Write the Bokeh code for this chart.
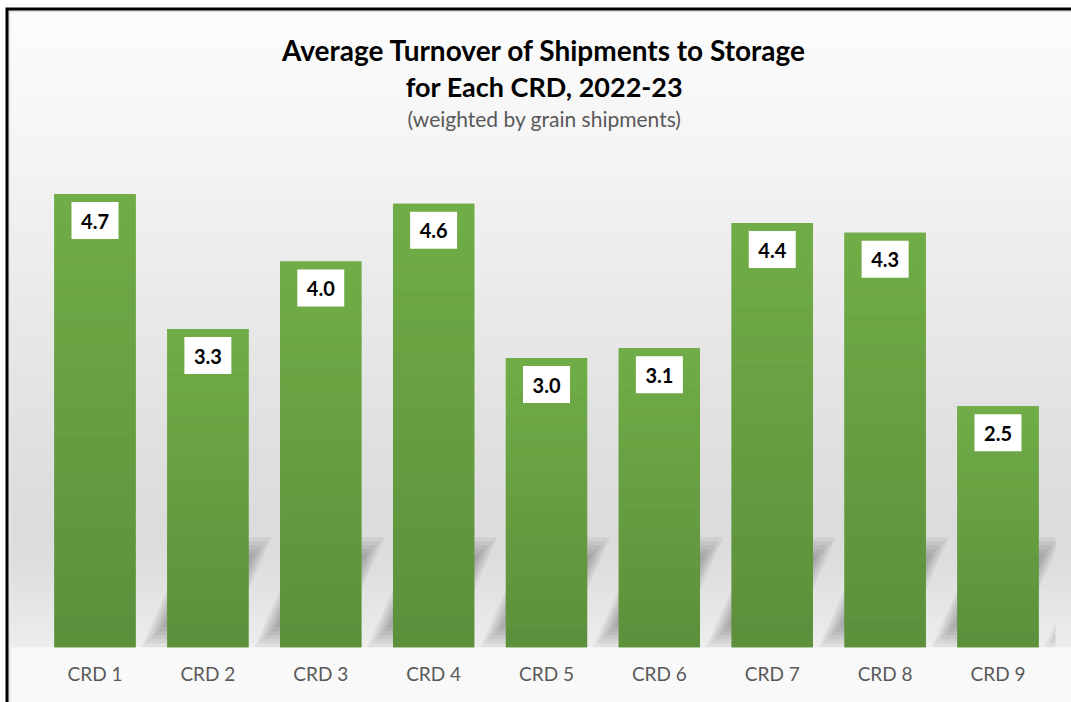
import numpy as np
from bokeh.plotting import figure
from bokeh.models import Range1d
from bokeh.core.properties import value
from bokeh.embed import file_html
from bokeh.resources import INLINE

# ---------------- data ----------------
categories = ["CRD 1", "CRD 2", "CRD 3", "CRD 4", "CRD 5", "CRD 6", "CRD 7", "CRD 8", "CRD 9"]
turnover = [4.7, 3.3, 4.0, 4.6, 3.0, 3.1, 4.4, 4.3, 2.5]
title_line1 = "Average Turnover of Shipments to Storage"
title_line2 = "for Each CRD, 2022-23"
subtitle = "(weighted by grain shipments)"

# ---------------- layout constants (pixels) ----------------
W, H = 1071, 702
PX_X = 112.875          # px per category step
PX_Y = 96.4             # px per unit of turnover
BASE_Y = 646.7          # canvas row of the bar base
FIRST_X = 94.5          # canvas column of first bar centre
BAR_W = 0.72
FONT = "Lato"

xpos = np.arange(1, len(categories) + 1, dtype=float)
x_start = 1 - FIRST_X / PX_X
x_end = x_start + W / PX_X


def ypix(py):
    return (BASE_Y - py) / PX_Y


def xpix(px):
    return x_start + px / PX_X


p = figure(width=W, height=H, x_range=Range1d(x_start, x_end), y_range=Range1d(ypix(H), ypix(0)),
           output_backend="svg", toolbar_location=None,
           min_border_left=0, min_border_right=0, min_border_top=0, min_border_bottom=0)
p.axis.visible = False
p.grid.visible = False
p.outline_line_color = None
p.background_fill_color = "white"
p.border_fill_color = "white"

# ---------------- chart area frame ----------------
p.quad(left=[xpix(5)], right=[xpix(W)], top=[ypix(7)], bottom=[ypix(H)], fill_color="black", line_color=None)
p.quad(left=[xpix(8)], right=[xpix(W)], top=[ypix(10)], bottom=[ypix(H)], fill_color="#e2e2e2", line_color=None)
p.quad(left=[xpix(10)], right=[xpix(W)], top=[ypix(12)], bottom=[ypix(H)], fill_color="#f9f9f9", line_color=None)

# ---------------- background gradient (plot wall) ----------------
stops_y = [12, 150, 300, 450, 530, 560, 600, BASE_Y]
stops_g = [253, 245, 234, 224, 220, 222, 229, 238]
N = 640
rows = BASE_Y - (np.arange(N) + 0.5) / N * (BASE_Y - 12)
gray = np.interp(rows, stops_y, stops_g).astype(np.uint8)
img = np.zeros((N, 1), dtype=np.uint32)
view = img.view(dtype=np.uint8).reshape((N, 1, 4))
view[:, 0, 0] = gray
view[:, 0, 1] = gray
view[:, 0, 2] = gray
view[:, 0, 3] = 255
p.image_rgba(image=[img], x=xpix(10), y=0, dw=xpix(W) - xpix(10), dh=ypix(12))

# ---------------- floor shadows ----------------
x_clip = xpix(1055)


def clip_right(pts, xmax):
    out = []
    for i in range(len(pts)):
        cur, prev = pts[i], pts[i - 1]
        cin, pin = cur[0] <= xmax, prev[0] <= xmax
        if cin != pin:
            t = (xmax - prev[0]) / (cur[0] - prev[0])
            out.append((xmax, prev[1] + t * (cur[1] - prev[1])))
        if cin:
            out.append(cur)
    return out


sh_gap = 6 / PX_X
sh_h_px = 110
skew = 47 / 106
for k in range(6):
    xs, ys = [], []
    inset = (k * 2.5) / PX_X
    top_px = sh_h_px - k * 4
    ht = top_px / PX_Y
    shift = top_px * skew / PX_X
    for xc in xpos:
        xl = xc + BAR_W / 2 + sh_gap + inset
        xr = xc + BAR_W / 2 + sh_gap + BAR_W - inset
        b = (k * 4) / PX_Y
        bs = (k * 4) * skew / PX_X
        pts = [(xl + bs, b), (xr + bs, b), (xr + shift, ht), (xl + shift, ht)]
        pts = clip_right(pts, x_clip)
        if len(pts) >= 3:
            xs.append([q[0] for q in pts])
            ys.append([q[1] for q in pts])
    p.patches(xs, ys, fill_color="black", fill_alpha=0.05, line_color=None)

# ---------------- bars ----------------
p.vbar(x=xpos, top=turnover, width=BAR_W, bottom=0, fill_color="#66a042", line_color=None)

top_rgb = np.array([112, 173, 71])
bot_rgb = np.array([92, 143, 59])
NS = 30
ql, qr, qb, qt, qc = [], [], [], [], []
for xc, v in zip(xpos, turnover):
    for s in range(NS):
        f = (s + 0.5) / NS
        c = (bot_rgb + (top_rgb - bot_rgb) * f).round().astype(int)
        ql.append(xc - BAR_W / 2)
        qr.append(xc + BAR_W / 2)
        qb.append(v * s / NS)
        qt.append(min(v, v * (s + 1) / NS + 0.01))
        qc.append("#%02x%02x%02x" % tuple(c))
p.quad(left=ql, right=qr, bottom=qb, top=qt, fill_color=qc, line_color=None)

# ---------------- value labels ----------------
p.rect(x=xpos, y=[v - 26.5 / PX_Y for v in turnover], width=47, height=37,
       width_units="screen", height_units="screen", fill_color="white", line_color=None)
p.text(x=xpos, y=[v - 27 / PX_Y for v in turnover], text=["%.1f" % v for v in turnover],
       text_font=value(FONT), text_font_style="bold", text_font_size="20px",
       text_align="center", text_baseline="middle", text_color="black")

# ---------------- category labels (x axis) ----------------
p.text(x=xpos, y=[ypix(672.5)] * len(categories), text=categories,
       text_font=value(FONT), text_font_size="19px", text_align="center",
       text_baseline="middle", text_color="#595959")

# ---------------- titles ----------------
xm = xpix(544)
p.text(x=[xm], y=[ypix(49)], text=[title_line1], text_font=value(FONT), text_font_style="bold",
       text_font_size="28px", text_align="center", text_baseline="middle", text_color="#000000")
p.text(x=[xm], y=[ypix(86)], text=[title_line2], text_font=value(FONT), text_font_style="bold",
       text_font_size="27px", text_align="center", text_baseline="middle", text_color="#000000")
p.text(x=[xm], y=[ypix(118)], text=[subtitle], text_font=value(FONT),
       text_font_size="21px", text_align="center", text_baseline="middle", text_color="#595959")

open("out.html", "w").write(file_html(p, INLINE))
